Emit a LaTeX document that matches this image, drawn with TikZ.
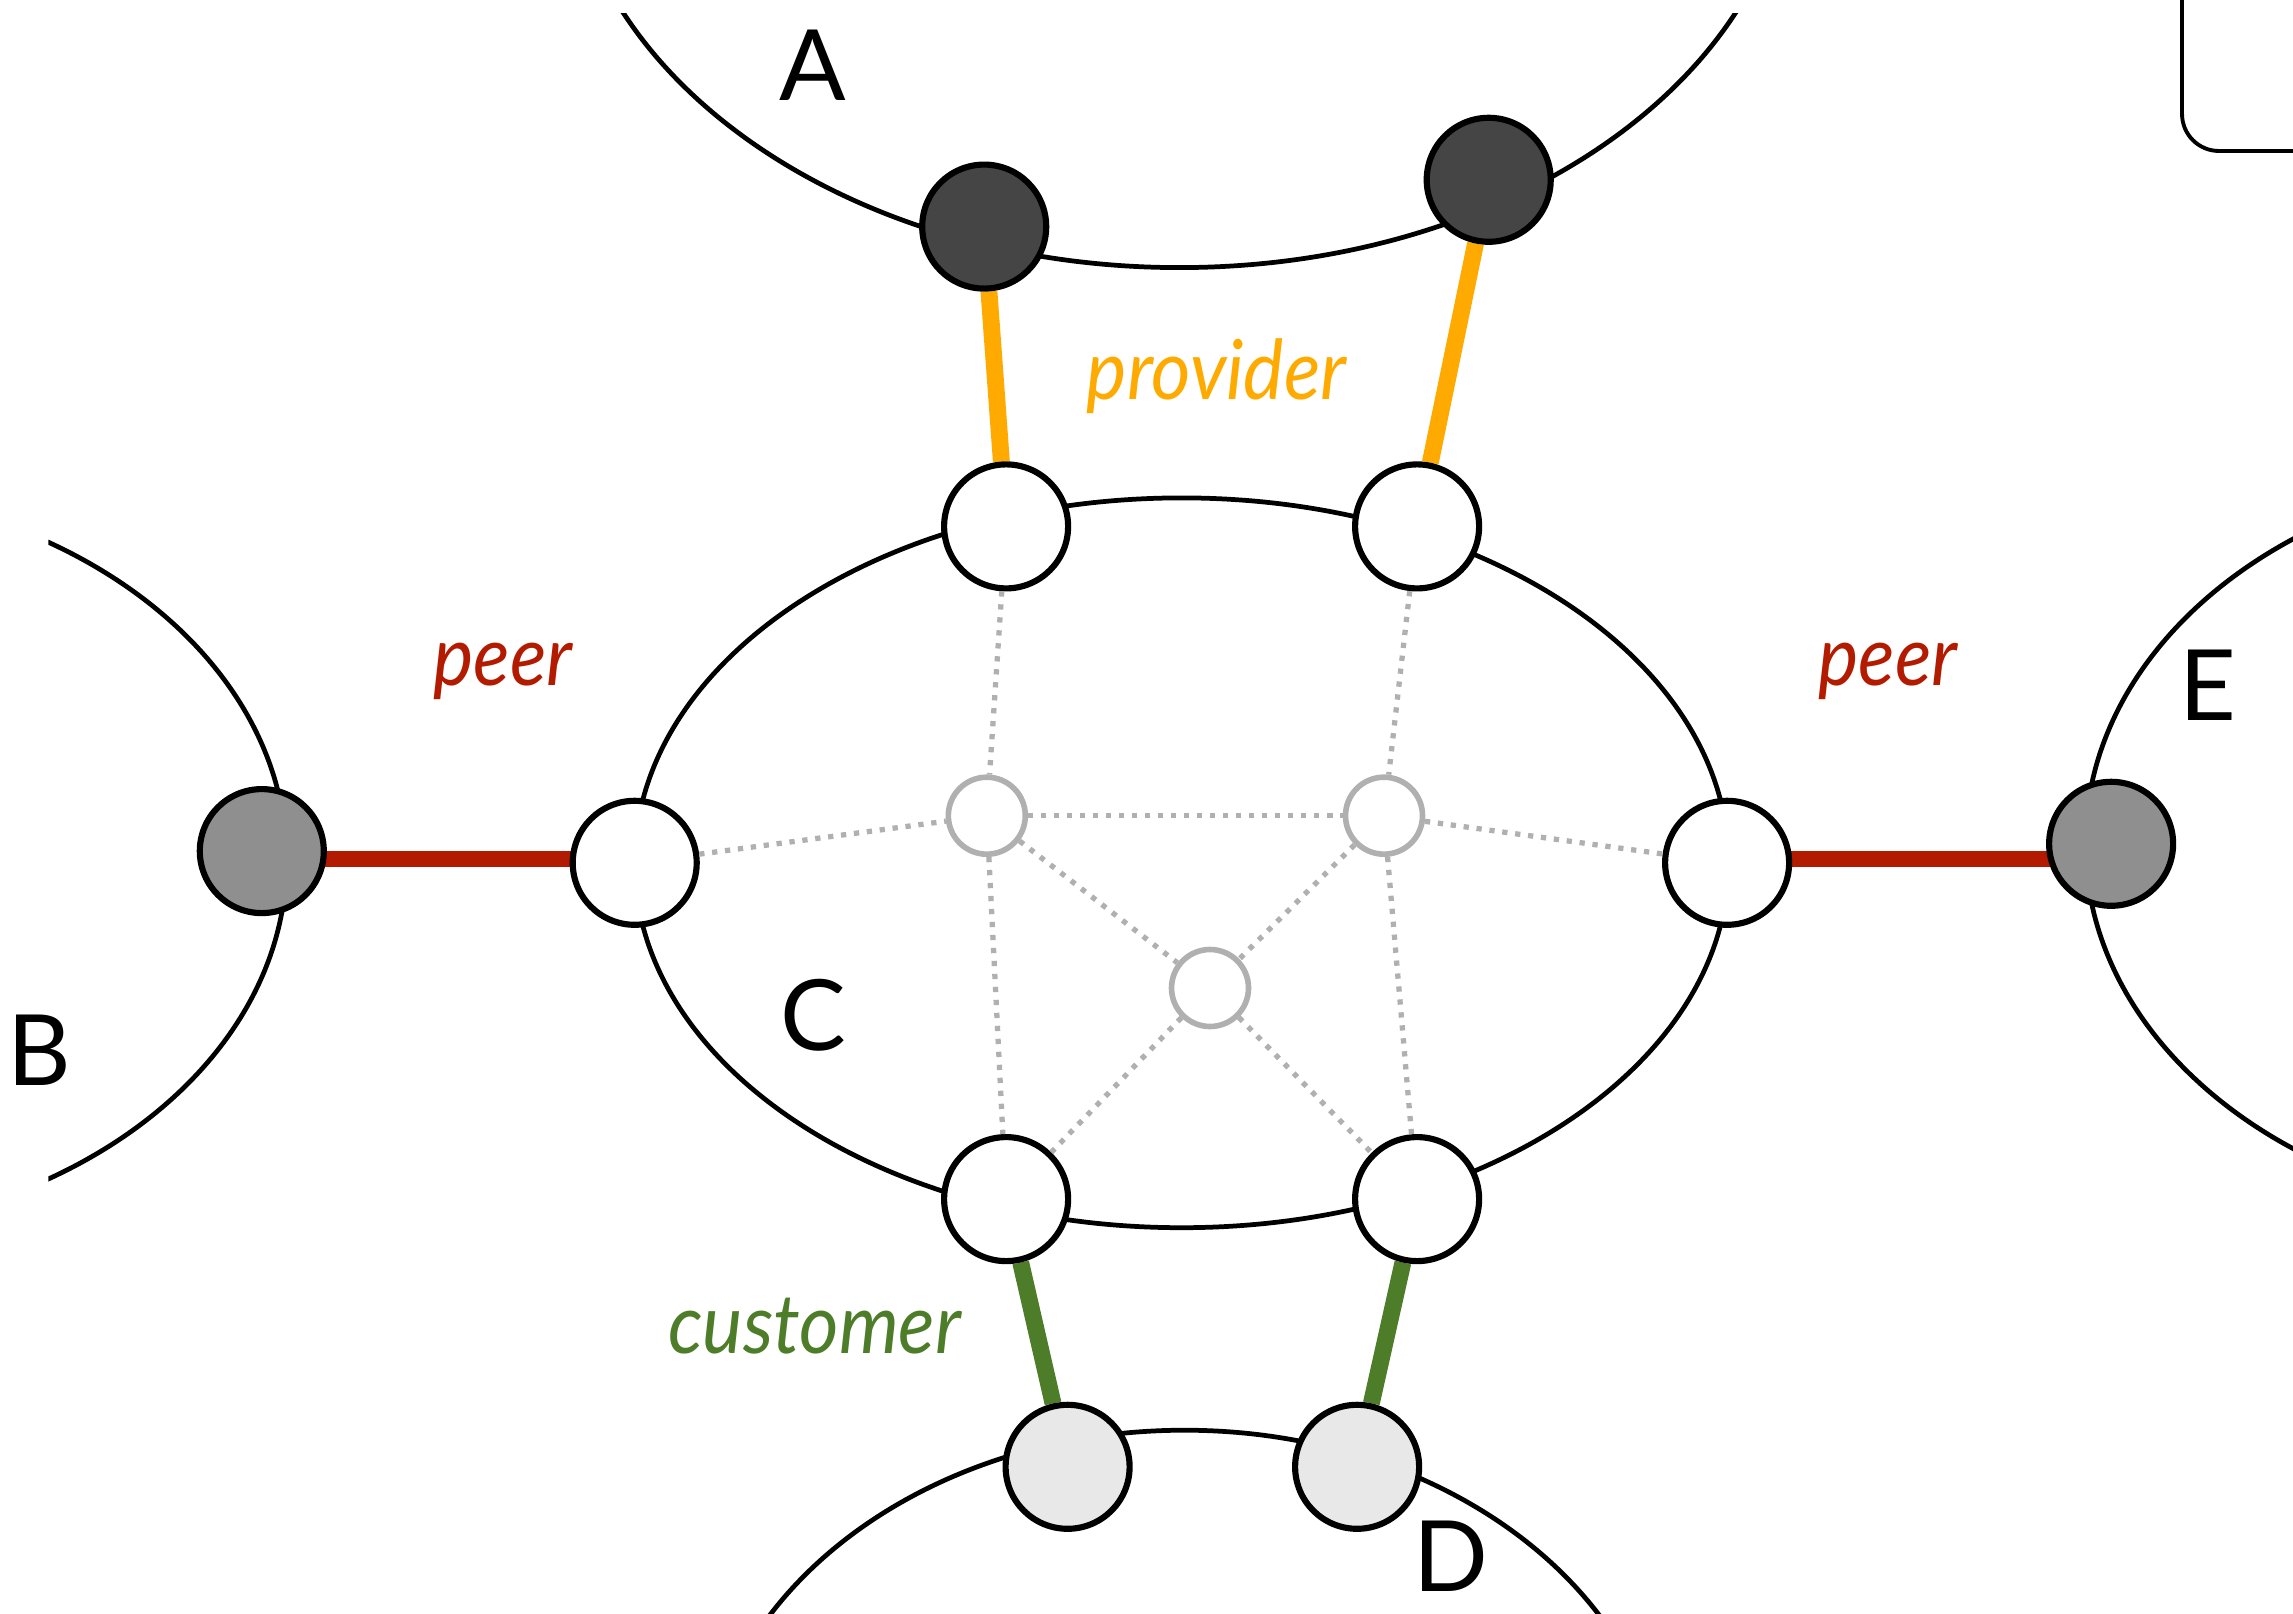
\documentclass[tikz,border=0pt]{standalone}
\usepackage{fontspec}
\setmainfont{Lato}
\newfontfamily\tagfont[FakeStretch=0.92]{Lato}
\usetikzlibrary{backgrounds}

\definecolor{provcol}{HTML}{FFAA00}
\definecolor{peercol}{HTML}{B31B00}
\definecolor{custcol}{HTML}{4E7D2A}

\tikzset{
  asline/.style={line width=1.35pt},
  router/.style={circle,draw,line width=1.75pt,fill=white,minimum size=1.24cm,inner sep=0pt},
  core/.style={circle,draw=black!31,line width=1.6pt,fill=white,minimum size=0.77cm,inner sep=0pt},
  ibgp/.style={black!31,line width=1.5pt,dash pattern=on 1.5pt off 2.2pt},
  uplink/.style={provcol,line width=4.8pt},
  peerlink/.style={peercol,line width=4.8pt},
  downlink/.style={custcol,line width=4.8pt},
  asname/.style={font=\fontsize{28}{30}\selectfont,anchor=base,inner sep=0pt},
  reltag/.style={font=\tagfont\itshape\fontsize{23.5}{26}\selectfont,anchor=base,inner sep=0pt}
}

\begin{document}
\begin{tikzpicture}
  \useasboundingbox (0,0) rectangle (22.93,16.13);
  \clip (0,0) rectangle (22.93,16.13);

  % corner of a box
  \draw[line width=1.1pt,rounded corners=0.37cm] (21.82,16.6) -- (21.82,14.62) -- (23.4,14.62);

  % border routers
  \node[router,fill=black!73] (a1) at (9.842,13.864) {};
  \node[router,fill=black!73] (a2) at (14.887,14.332) {};
  \node[router,fill=black!44] (b1) at (2.618,7.619) {};
  \node[router,fill=black!44] (e1) at (21.111,7.692) {};
  \node[router,fill=black!9] (d1) at (10.676,1.462) {};
  \node[router,fill=black!9] (d2) at (13.571,1.462) {};

  \node[router] (ctl) at (10.061,10.866) {};
  \node[router] (ctr) at (14.171,10.866) {};
  \node[router] (cl) at (6.347,7.502) {};
  \node[router] (cr) at (17.271,7.502) {};
  \node[router] (cbl) at (10.061,4.139) {};
  \node[router] (cbr) at (14.171,4.139) {};

  % internal routers
  \node[core] (k1) at (9.868,7.973) {};
  \node[core] (k2) at (13.840,7.973) {};
  \node[core] (k3) at (12.100,6.250) {};

  \foreach \u/\v in {ctl/k1,ctr/k2,cl/k1,k1/k2,k2/cr,k1/cbl,k2/cbr,k1/k3,k2/k3,k3/cbl,k3/cbr}
    \draw[ibgp] (\u) -- (\v);

  \begin{pgfonlayer}{background}
    % the five networks
    \begin{scope}
      \clip (0.483,-1) rectangle (24,15.99);
      \draw[asline] (11.794,17.885) ellipse [x radius=6.142, y radius=4.431];
      \draw[asline] (-2.106,7.524) ellipse [x radius=4.972, y radius=3.729];
      \draw[asline] (11.816,7.502) ellipse [x radius=5.469, y radius=3.649];
      \draw[asline] (11.845,-1.960) ellipse [x radius=4.826, y radius=3.788];
      \draw[asline] (25.753,7.692) ellipse [x radius=4.899, y radius=3.729];
    \end{scope}

    % links between networks
    \coordinate (peerlevel) at (0,7.54);
    \draw[uplink] (a1) -- (ctl);
    \draw[uplink] (a2) -- (ctr);
    \draw[peerlink] (b1 |- peerlevel) -- (cl |- peerlevel);
    \draw[peerlink] (cr |- peerlevel) -- (e1 |- peerlevel);
    \draw[downlink] (cbl) -- (d1);
    \draw[downlink] (cbr) -- (d2);
  \end{pgfonlayer}

  % names
  \node[asname] (nA) at (8.124,15.123) {A};
  \node[asname] (nB) at (0.395,5.279) {B};
  \node[asname] (nC) at (8.131,5.630) {C};
  \node[asname] (nD) at (14.507,0.219) {D};
  \node[asname] (nE) at (22.082,8.921) {E};

  \node[reltag,provcol] (tprov) at (12.167,12.13) {provider};
  \node[reltag,peercol] (tpeerl) at (5.031,9.28) {peer};
  \node[reltag,peercol] (tpeerr) at (18.880,9.28) {peer};
  \node[reltag,custcol] (tcust) at (8.146,2.60) {customer};
\end{tikzpicture}
\end{document}
